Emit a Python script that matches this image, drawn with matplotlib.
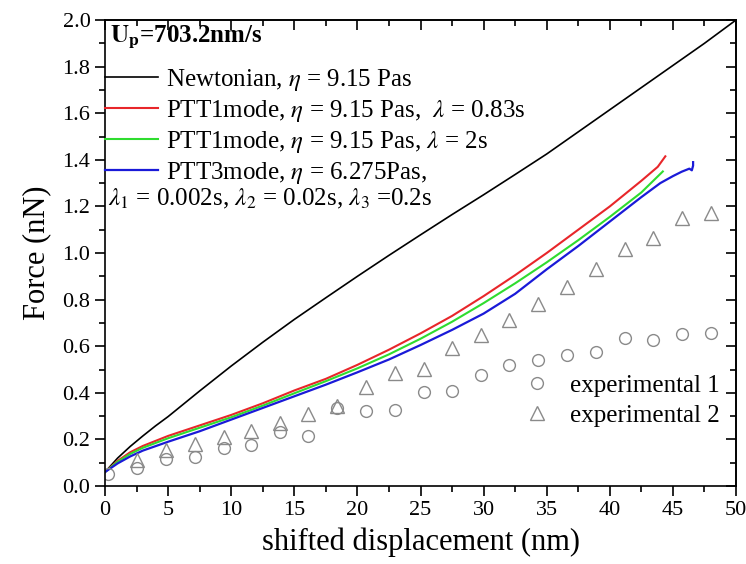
import numpy as np
import matplotlib
matplotlib.use("Agg")
from matplotlib import pyplot as plt
from matplotlib.lines import Line2D
from matplotlib.ticker import MultipleLocator, FormatStrFormatter

plt.rcParams['font.family'] = ['Liberation Serif', 'DejaVu Serif']
plt.rcParams['mathtext.fontset'] = 'stix'

# model curves: displacement (nm) -> force (nN)
x_newt = [0, 1, 2, 3, 4, 5, 7.5, 10, 12.5, 15, 17.5, 20, 22.5, 25, 27.5,
          30, 32.5, 35, 37.5, 40, 42.5, 45, 47.5, 50]
f_newt = [0.06, 0.12, 0.17, 0.215, 0.258, 0.298, 0.408, 0.515, 0.617, 0.715, 0.808,
          0.9, 0.99, 1.078, 1.165, 1.25, 1.337, 1.425, 1.52, 1.615, 1.71, 1.805, 1.90, 2.0]

x_ptt1a = [0, 1, 2, 3, 5, 7.5, 10, 12.5, 15, 17.5, 20, 22.5, 25, 27.5, 30, 32.5,
           35, 37.5, 40, 42.5, 43.8, 44.2, 44.4]
f_ptt1a = [0.06, 0.108, 0.145, 0.172, 0.215, 0.26, 0.305, 0.355, 0.41, 0.46, 0.52,
           0.585, 0.655, 0.73, 0.815, 0.905, 1.0, 1.1, 1.2, 1.31, 1.37, 1.40, 1.415]

x_ptt1b = [0, 1, 2, 3, 5, 7.5, 10, 12.5, 15, 17.5, 20, 22.5, 25, 27.5, 30, 32.5,
           35, 37.5, 40, 42.5, 44.2]
f_ptt1b = [0.06, 0.104, 0.138, 0.164, 0.205, 0.25, 0.295, 0.345, 0.398, 0.45, 0.505,
           0.565, 0.632, 0.705, 0.785, 0.87, 0.96, 1.055, 1.155, 1.26, 1.35]

x_ptt3 = [0, 1, 2, 3, 5, 7.5, 10, 12.5, 15, 17.5, 20, 22.5, 25, 27.5, 30, 32.5,
          35, 37.5, 40, 42.5, 44, 45, 45.7, 46.3, 46.5, 46.6, 46.6]
f_ptt3 = [0.06, 0.097, 0.127, 0.152, 0.19, 0.235, 0.285, 0.335, 0.385, 0.435, 0.488,
          0.543, 0.605, 0.67, 0.74, 0.825, 0.93, 1.03, 1.135, 1.24, 1.30, 1.33,
          1.349, 1.362, 1.355, 1.375, 1.39]

# experiments
x_exp1 = [0.2, 2.5, 4.8, 7.1, 9.4, 11.6, 13.9, 16.1, 18.4, 20.7, 23.0, 25.3, 27.5,
          29.8, 32.0, 34.3, 36.6, 38.9, 41.2, 43.4, 45.7, 48.0]
f_exp1 = [0.05, 0.076, 0.115, 0.123, 0.162, 0.176, 0.233, 0.213, 0.333, 0.323, 0.326,
          0.405, 0.409, 0.476, 0.519, 0.541, 0.562, 0.574, 0.637, 0.627, 0.652, 0.655]

x_exp2 = [2.5, 4.8, 7.1, 9.4, 11.6, 13.9, 16.1, 18.4, 20.7, 23.0, 25.3, 27.5, 29.8,
          32.0, 34.3, 36.6, 38.9, 41.2, 43.4, 45.7, 48.0]
f_exp2 = [0.113, 0.155, 0.18, 0.209, 0.237, 0.272, 0.309, 0.343, 0.426, 0.486, 0.503,
          0.591, 0.648, 0.714, 0.78, 0.855, 0.931, 1.018, 1.066, 1.149, 1.173]

c_red = '#e8262a'
c_green = '#2fdc2f'
c_blue = '#1a1ad8'
c_gray = '#8a8a8a'

fig = plt.figure(figsize=(7.46, 5.64), dpi=100)
ax = fig.add_axes([0.1408, 0.1383, 0.8458, 0.8262])

ax.plot(x_newt, f_newt, color='black', lw=1.2)
ax.plot(x_ptt1a, f_ptt1a, color=c_red, lw=1.5)
ax.plot(x_ptt1b, f_ptt1b, color=c_green, lw=1.5)
ax.plot(x_ptt3, f_ptt3, color=c_blue, lw=1.6)
ax.plot(x_exp1, f_exp1, 'o', mfc='none', mec=c_gray, ms=8.5, mew=1.0)
ax.plot(x_exp2, f_exp2, '^', mfc='none', mec=c_gray, ms=10.5, mew=1.0)

ax.set_xlim(0, 50)
ax.set_ylim(0, 2.0)
ax.xaxis.set_major_locator(MultipleLocator(5))
ax.xaxis.set_minor_locator(MultipleLocator(2.5))
ax.yaxis.set_major_locator(MultipleLocator(0.2))
ax.yaxis.set_minor_locator(MultipleLocator(0.1))
ax.yaxis.set_major_formatter(FormatStrFormatter('%.1f'))
ax.tick_params(which='major', direction='out', length=7, width=1.2, labelsize=16)
ax.tick_params(which='minor', direction='out', length=4, width=1.2)

top = ax.secondary_xaxis('top')
top.xaxis.set_major_locator(MultipleLocator(5))
top.xaxis.set_minor_locator(MultipleLocator(2.5))
top.tick_params(which='major', direction='in', length=7, width=1.2, labeltop=False)
top.tick_params(which='minor', direction='in', length=4, width=1.2)
right = ax.secondary_yaxis('right')
right.yaxis.set_major_locator(MultipleLocator(0.2))
right.yaxis.set_minor_locator(MultipleLocator(0.1))
right.tick_params(which='major', direction='in', length=7, width=1.2, labelright=False)
right.tick_params(which='minor', direction='in', length=4, width=1.2)
for s in list(ax.spines.values()) + [top.spines['top'], right.spines['right']]:
    s.set_linewidth(1.2)

ax.set_xlabel('shifted displacement (nm)', fontsize=22, labelpad=6)
ax.set_ylabel('Force (nN)', fontsize=22, labelpad=8)

# legend of model curves
handles = [Line2D([], [], color='black', lw=1.2),
           Line2D([], [], color=c_red, lw=1.5),
           Line2D([], [], color=c_green, lw=1.5),
           Line2D([], [], color=c_blue, lw=1.6)]
labels = [r'Newtonian, $\eta$ = 9.15 Pas',
          r'PTT1mode, $\eta$ = 9.15 Pas,  $\lambda$ = 0.83s',
          r'PTT1mode, $\eta$ = 9.15 Pas, $\lambda$ = 2s',
          r'PTT3mode, $\eta$ = 6.275Pas,']
leg1 = ax.legend(handles, labels, loc='upper left', bbox_to_anchor=(0.0, 0.9),
                 frameon=False, fontsize=18, handlelength=2.1, handletextpad=0.35,
                 labelspacing=0.2, borderpad=0.0, borderaxespad=0.0)
ax.add_artist(leg1)
ax.text(0.005, 0.615, r'$\lambda_1$ = 0.002s, $\lambda_2$ = 0.02s, $\lambda_3$ =0.2s',
        transform=ax.transAxes, fontsize=18, va='center', ha='left')
ax.text(0.008, 0.962, r'$\mathbf{U_p}$=703.2nm/s', transform=ax.transAxes,
        fontsize=18, fontweight='bold', va='center', ha='left')

# legend of experiments
h2 = [Line2D([], [], ls='none', marker='o', mfc='none', mec=c_gray, ms=8.5),
      Line2D([], [], ls='none', marker='^', mfc='none', mec=c_gray, ms=10.5)]
ax.legend(h2, ['experimental 1', 'experimental 2'], loc='upper left',
          bbox_to_anchor=(0.665, 0.24), frameon=False, fontsize=18,
          handlelength=1.0, handletextpad=0.8, labelspacing=0.3,
          borderpad=0.0, borderaxespad=0.0)

fig.savefig('out.png', dpi=100)
